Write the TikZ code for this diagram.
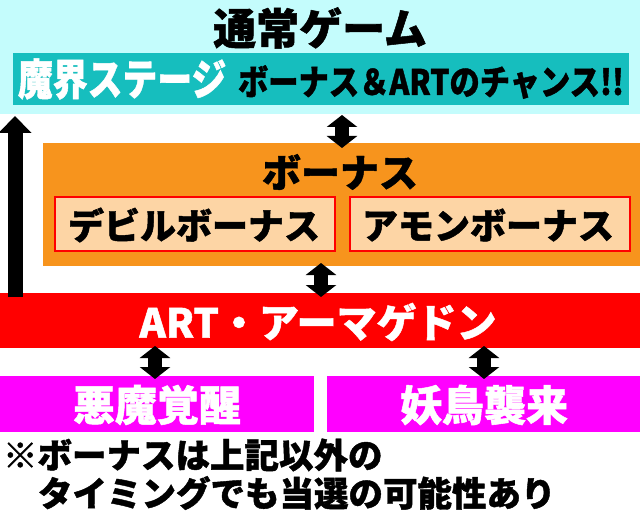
\documentclass[tikz,border=0pt]{standalone}
\usepackage{fontspec}
\setmainfont{Noto Sans CJK JP}[BoldFeatures={FakeBold=1.2}]
\usetikzlibrary{arrows.meta}
\definecolor{cyanbg}{RGB}{196,252,252}
\definecolor{tealbar}{RGB}{22,190,190}
\definecolor{orng}{RGB}{247,148,29}
\definecolor{peach}{RGB}{253,213,165}
\definecolor{mag}{RGB}{255,0,255}
\begin{document}
\begin{tikzpicture}[x=1pt,y=-1pt,
  panel/.style={inner sep=0pt,outer sep=0pt,draw=none},
  subbox/.style={inner sep=0pt,outer sep=0pt,fill=peach,draw=red,line width=2pt,minimum width=280pt,minimum height=54pt},
  txt/.style={inner sep=0pt,outer sep=0pt,font=\bfseries},
  dbl/.style={line width=14pt,{Triangle[width=30pt,length=12pt]}-{Triangle[width=30pt,length=12pt]}},
  uparr/.style={line width=15pt,-{Triangle[width=32pt,length=17pt]}}
]
\useasboundingbox (0,0) rectangle (640,516);
\fill[white] (0,0) rectangle (640,516);
% panels
\node[panel,fill=cyanbg,minimum width=640pt,minimum height=114pt] (bg) at (320,57) {};
\node[panel,fill=tealbar,minimum width=616pt,minimum height=52pt] (stage) at (321,79) {};
\node[panel,fill=orng,minimum width=597pt,minimum height=123pt] (bonus) at (341.5,204.5) {};
\node[subbox] (devil) at (195,224) {};
\node[subbox] (amon) at (490,224) {};
\node[panel,fill=red,minimum width=640pt,minimum height=55pt] (art) at (320,320.5) {};
\node[panel,fill=mag,minimum width=314pt,minimum height=56pt] (akuma) at (157,404) {};
\node[panel,fill=mag,minimum width=313pt,minimum height=56pt] (youchou) at (483.5,404) {};
% texts
\node[txt] (t1) at (320,28) {\fontsize{43}{43}\selectfont 通常ゲーム};
\node[txt,text=white,anchor=west] (t2) at (18,79) {\scalebox{0.81}[1]{\fontsize{43}{43}\selectfont 魔界ステージ}};
\node[txt,anchor=west] (t3) at (238,82) {\scalebox{0.865}[1]{\fontsize{35}{35}\selectfont ボーナス＆ARTのチャンス!!}};
\node[txt] (t4) at (340,172) {\fontsize{39}{39}\selectfont ボーナス};
\node[txt] (t5) at (194,225) {\fontsize{36}{36}\selectfont デビルボーナス};
\node[txt] (t6) at (488,225) {\fontsize{36}{36}\selectfont アモンボーナス};
\node[txt,text=white] (t7) at (318,322) {\fontsize{40}{40}\selectfont ART・アーマゲドン};
\node[txt,text=white] (t8) at (157,405) {\fontsize{42}{42}\selectfont 悪魔覚醒};
\node[txt,text=white] (t9) at (484,405) {\fontsize{42}{42}\selectfont 妖鳥襲来};
\node[txt,anchor=west] (n1) at (3,455) {\fontsize{34.5}{34.5}\selectfont ※ボーナスは上記以外の};
\node[txt,anchor=west] (n2) at (38,493) {\fontsize{34.5}{34.5}\selectfont タイミングでも当選の可能性あり};
% connectors
\coordinate (a1t) at (342,115); \coordinate (a1b) at (342,148);
\coordinate (a2t) at (321,263); \coordinate (a2b) at (321,297);
\coordinate (a3t) at (155,346); \coordinate (a3b) at (155,379);
\coordinate (a4t) at (484,346); \coordinate (a4b) at (484,379);
\coordinate (u0) at (15,297); \coordinate (u1) at (15,116);
\draw[dbl] (a1t) -- (a1b);
\draw[dbl] (a2t) -- (a2b);
\draw[dbl] (a3t) -- (a3b);
\draw[dbl] (a4t) -- (a4b);
\draw[uparr] (u0) -- (u1);
\end{tikzpicture}
\end{document}
